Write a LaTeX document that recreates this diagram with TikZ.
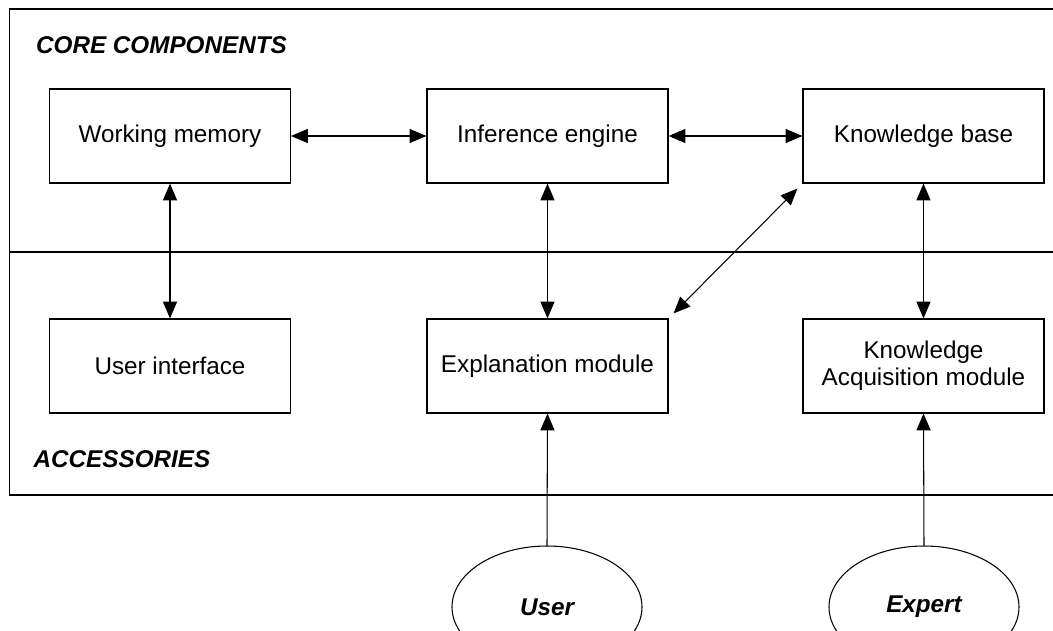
\documentclass[tikz,border=0pt]{standalone}
\usepackage{fontspec}
\setmainfont{Liberation Sans}
\usetikzlibrary{arrows.meta,shapes.geometric}

\begin{document}
\begin{tikzpicture}[
  box/.style={draw, line width=0.7pt, minimum width=4.82cm, minimum height=1.88cm,
    align=center, font=\fontsize{13.8}{15.5}\selectfont},
  actor/.style={draw, ellipse, line width=0.6pt, minimum width=3.8cm, minimum height=2.44cm,
    font=\fontsize{13.8}{15.5}\selectfont\bfseries\itshape},
  heading/.style={anchor=base west, font=\fontsize{13.8}{15.5}\selectfont\bfseries\itshape},
  link/.style={line width=0.6pt, {Triangle[length=9.5pt,width=8pt]}-{Triangle[length=9.5pt,width=8pt]}},
  feed/.style={line width=0.6pt, -{Triangle[length=9.5pt,width=8pt]}}
]
\useasboundingbox (0,0) rectangle (21.06,12.6);

%Drawing the frame and the divider
\draw[line width=0.7pt] (21.4,12.42)--(0.19,12.42)--(0.19,2.7)--(21.4,2.7);
\draw[line width=0.7pt] (0.19,7.56)--(21.4,7.56);
\node[heading] (core) at (0.6,11.54) {CORE COMPONENTS};
\node[heading] (acc) at (0.55,3.26) {ACCESSORIES};

%core components
\node[box] (wm) at (3.4,9.88) {Working memory};
\node[box] (ie) at (10.95,9.88) {Inference engine};
\node[box] (kb) at (18.47,9.88) {Knowledge base};

%accessories
\node[box] (ui) at (3.4,5.28) {User interface};
\node[box] (em) at (10.95,5.28) {Explanation module};
\node[box] (ka) at (18.47,5.28) {Knowledge\\Acquisition module};

%people outside
\node[actor] (user) at (10.94,0.46) {User};
\node[actor] (expert) at (18.48,0.46) {Expert};

%connecting them
\draw[link] (wm.east) -- (ie.west);
\draw[link] (ie.east) -- (kb.west);
\draw[link] (wm.south) -- (ui.north);
\draw[link] (ie.south) -- (em.north);
\draw[link] (kb.south) -- (ka.north);
\draw[link, shorten <=0.14cm, shorten >=0.14cm] (em.north east) -- (kb.south west);
\draw[feed] (user.north) -- (em.south);
\draw[feed] (expert.north) -- (ka.south);
\end{tikzpicture}
\end{document}
